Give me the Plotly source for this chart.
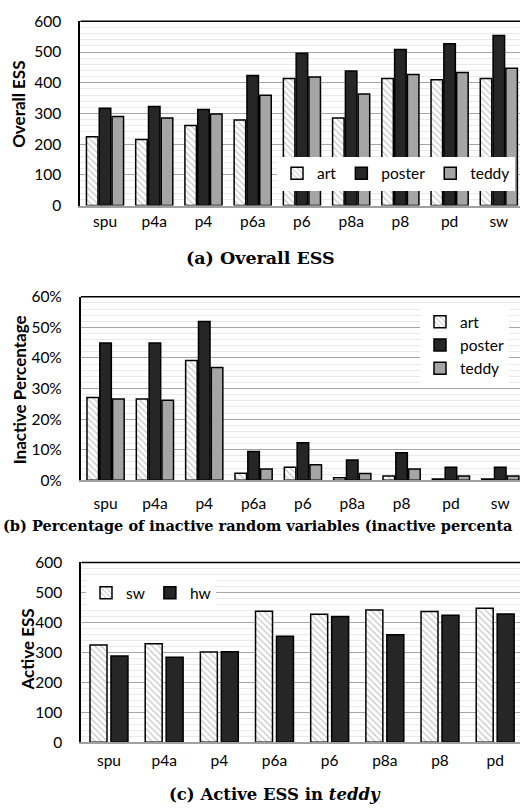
import plotly.graph_objects as go

# ---------------- data ----------------
configs_ab = ["spu", "p4a", "p4", "p6a", "p6", "p8a", "p8", "pd", "sw"]
ess_art = [224, 215, 261, 279, 414, 285, 414, 410, 414]
ess_poster = [317, 323, 313, 424, 496, 438, 508, 527, 554]
ess_teddy = [290, 285, 298, 359, 419, 363, 427, 433, 447]

inact_art = [27.1, 26.6, 39.2, 2.3, 4.3, 0.85, 1.4, 0.4, 0.4]
inact_poster = [44.9, 44.9, 51.9, 9.4, 12.3, 6.6, 9.0, 4.3, 4.3]
inact_teddy = [26.6, 26.2, 36.9, 3.7, 5.1, 2.2, 3.7, 1.4, 1.4]

configs_c = ["spu", "p4a", "p4", "p6a", "p6", "p8a", "p8", "pd"]
active_sw = [325, 329, 301, 437, 427, 441, 436, 447]
active_hw = [288, 284, 302, 354, 420, 359, 424, 428]

# ---------------- style ----------------
W, H = 520, 810
TICKFONT = dict(family="Lato", size=15.5, color="#000000")
HATCH = dict(shape="\\", fgcolor="#8a8a8a", bgcolor="#ffffff", size=4.5, solidity=0.28)
LINE = dict(color="#000000", width=1.5)
DARK = "#262626"
GREY = "#a5a5a5"

def py(px):
    return 1 - px / H

fig = go.Figure()

# panel a
bw3 = 0.234
offs3 = [-0.377, -0.117, 0.143]
for name, vals, k in [("art", ess_art, 0), ("poster", ess_poster, 1), ("teddy", ess_teddy, 2)]:
    mk = dict(line=LINE)
    if name == "art":
        mk.update(color="#ffffff", pattern=HATCH)
    else:
        mk.update(color=DARK if name == "poster" else GREY)
    fig.add_trace(go.Bar(x=configs_ab, y=vals, name=name, marker=mk, width=bw3,
                         offset=offs3[k], xaxis="x", yaxis="y", legend="legend"))

# panel b
for name, vals, k in [("art", inact_art, 0), ("poster", inact_poster, 1), ("teddy", inact_teddy, 2)]:
    mk = dict(line=LINE)
    if name == "art":
        mk.update(color="#ffffff", pattern=HATCH)
    else:
        mk.update(color=DARK if name == "poster" else GREY)
    fig.add_trace(go.Bar(x=configs_ab, y=vals, name=name, marker=mk, width=bw3,
                         offset=offs3[k], xaxis="x2", yaxis="y2", legend="legend2"))

# panel c
bw2 = 0.308
fig.add_trace(go.Bar(x=configs_c, y=active_sw, name="sw",
                     marker=dict(color="#ffffff", pattern=HATCH, line=LINE),
                     width=bw2, offset=-0.344, xaxis="x3", yaxis="y3", legend="legend3"))
fig.add_trace(go.Bar(x=configs_c, y=active_hw, name="hw",
                     marker=dict(color=DARK, line=LINE),
                     width=bw2, offset=0.036, xaxis="x3", yaxis="y3", legend="legend3"))

def xax(left_px, right_rng, cats, y, standoff):
    return dict(domain=[left_px / W, 1], anchor=y, type="category", categoryorder="array",
                categoryarray=cats, range=[-0.5, right_rng], showline=True,
                linecolor="#a0a0a0", linewidth=1.5, ticks="", tickfont=TICKFONT,
                ticklabelstandoff=standoff, showgrid=False, zeroline=False, fixedrange=True)

def yax(x, dom, rng, dtick, mdtick, suffix=""):
    return dict(domain=dom, anchor=x, range=rng, dtick=dtick, tick0=0, showline=True,
                linecolor="#000000", linewidth=2, ticks="", tickfont=TICKFONT,
                ticksuffix=suffix, ticklabelstandoff=14, showgrid=True, gridcolor="#a6a6a6",
                gridwidth=1, zeroline=False,
                minor=dict(dtick=mdtick, tick0=0, showgrid=True, gridcolor="#e9e9e9", gridwidth=1),
                fixedrange=True)

fig.update_layout(
    width=W, height=H, margin=dict(l=0, r=0, t=0, b=0),
    paper_bgcolor="#ffffff", plot_bgcolor="#ffffff",
    barmode="group", font=dict(family="Lato", color="#000000"),
    xaxis=xax(80.4, 8.43, configs_ab, "y", 1),
    yaxis=yax("x", [py(200), py(11.6)], [0, 600], 100, 20),
    xaxis2=xax(80.9, 8.40, configs_ab, "y2", 8),
    yaxis2=yax("x2", [py(481), py(293.3)], [0, 60], 10, 2, "%"),
    xaxis3=xax(81.4, 7.45, configs_c, "y3", 3),
    yaxis3=yax("x3", [py(749), py(565)], [0, 600], 100, 20),
    legend=dict(orientation="h", x=277 / W, y=py(150), xanchor="left", yanchor="top",
                bgcolor="#ffffff", borderwidth=0, font=TICKFONT, traceorder="normal"),
    legend2=dict(orientation="v", x=420 / W, y=py(302), xanchor="left", yanchor="top",
                 bgcolor="#ffffff", borderwidth=0, font=TICKFONT, traceorder="normal"),
    legend3=dict(orientation="h", x=86 / W, y=py(579), xanchor="left", yanchor="top",
                 bgcolor="#ffffff", borderwidth=0, font=TICKFONT, traceorder="normal"),
    showlegend=True,
)

# top frame lines
for xr, yr in [("x", "y"), ("x2", "y2"), ("x3", "y3")]:
    fig.add_shape(type="line", xref=f"{xr} domain", yref=f"{yr} domain", x0=0, x1=1, y0=1, y1=1,
                  line=dict(color="#000000", width=1.5), layer="above")

# axis titles
for txt, xp, ypx in [("Overall ESS", 19, 97), ("Inactive Percentage", 19, 389), ("Active ESS", 27, 654)]:
    fig.add_annotation(text=f"<b>{txt}</b>", x=xp / W, y=py(ypx), xref="paper", yref="paper",
                       textangle=-90, showarrow=False, font=dict(family="Lato", size=17, color="#000000"),
                       xanchor="center", yanchor="middle")

# captions
fig.add_annotation(text="<b>(a) Overall ESS</b>", x=260 / W, y=py(254), xref="paper", yref="paper",
                   showarrow=False, font=dict(family="DejaVu Serif", size=17.5, color="#000000"),
                   xanchor="center", yanchor="middle")
fig.add_annotation(text="<b>(b) Percentage of inactive random variables (inactive percenta</b>",
                   x=1 / W, y=py(527), xref="paper", yref="paper",
                   showarrow=False, font=dict(family="DejaVu Serif", size=14.5, color="#000000"),
                   xanchor="left", yanchor="middle")
fig.add_annotation(text="<b>(c) Active ESS in <i>teddy</i></b>", x=275 / W, y=py(802), xref="paper", yref="paper",
                   showarrow=False, font=dict(family="DejaVu Serif", size=16.5, color="#000000"),
                   xanchor="center", yanchor="middle")

fig.write_html("out.html", config={"displayModeBar": False})
